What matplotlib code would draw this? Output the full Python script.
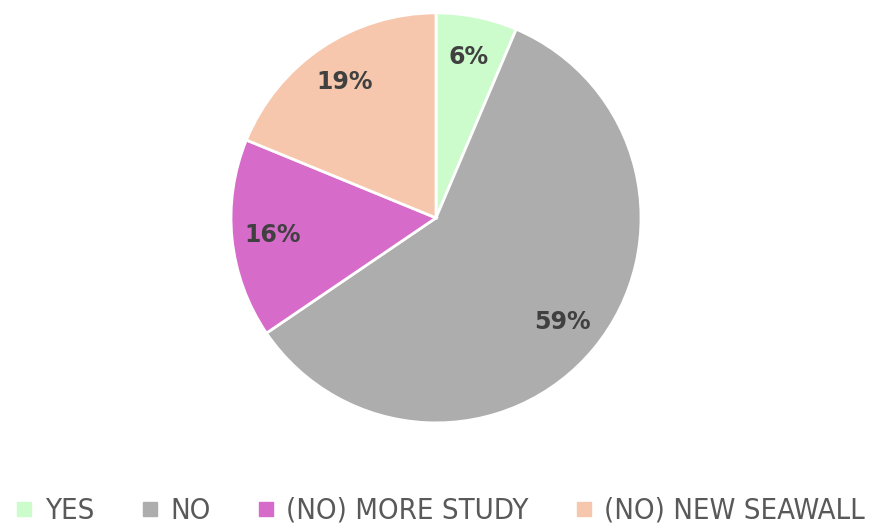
import numpy as np
import matplotlib.pyplot as plt
from matplotlib.lines import Line2D

labels = ["YES", "NO", "(NO) MORE STUDY", "(NO) NEW SEAWALL"]
values = [6.4, 59.1, 15.7, 18.8]
pct_labels = ["6%", "59%", "16%", "19%"]
colors = ["#CCFCCC", "#ADADAD", "#D76BCA", "#F6C7AD"]

fig = plt.figure(figsize=(8.75, 5.26), dpi=100)
ax = fig.add_axes([0.264, 0.196, 0.4686, 0.7795])

wedges, texts = ax.pie(
    values, colors=colors, startangle=90, counterclock=False,
    wedgeprops=dict(edgecolor="white", linewidth=2),
)
# percentage labels inside the slices
for w, lab in zip(wedges, pct_labels):
    ang = np.deg2rad((w.theta1 + w.theta2) / 2)
    ax.text(0.8 * np.cos(ang), 0.8 * np.sin(ang), lab, ha="center", va="center",
            color="#404040", fontsize=17, fontweight="bold")
ax.set_xlim(-1.0, 1.0)
ax.set_ylim(-1.0, 1.0)
ax.set_aspect("equal")

handles = [Line2D([], [], marker="s", linestyle="", markersize=10,
                  markerfacecolor=c, markeredgecolor=c) for c in colors]
fig.legend(handles, labels, loc="lower center", ncol=4, frameon=False,
           bbox_to_anchor=(0.5, -0.048), handletextpad=0.2, columnspacing=1.4,
           prop=dict(family="DejaVu Sans", size=21, stretch="condensed"),
           labelcolor="#595959", handlelength=1.0)

fig.savefig("out.png", dpi=100)
